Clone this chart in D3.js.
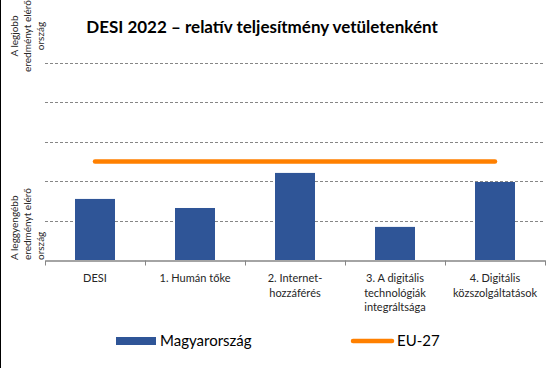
<!DOCTYPE html>
<html>
<head>
<meta charset="utf-8">
<script src="https://cdn.jsdelivr.net/npm/d3@7"></script>
<style>
  body { margin: 0; background: #fff; }
  svg { display: block; font-family: Lato, "Open Sans", sans-serif; }
</style>
</head>
<body>
<div id="chart"></div>
<script>
// data
const categories = ['DESI', '1. Humán tőke', '2. Internet-hozzáférés', '3. A digitális technológiák integráltsága', '4. Digitális közszolgáltatások'];
const categoryLines = [
  ['DESI'],
  ['1. Humán tőke'],
  ['2. Internet-', 'hozzáférés'],
  ['3. A digitális', 'technológiák', 'integráltsága'],
  ['4. Digitális', 'közszolgáltatások'],
];
const huValues = [1.55, 1.32, 2.21, 0.84, 1.98];
const euValues = [2.5, 2.5, 2.5, 2.5, 2.5];
const yTicks = [1, 2, 3, 4, 5];
const seriesNames = ['Magyarország', 'EU-27'];
const topLabel = ['A legjobb', 'eredményt elérő', 'ország'];
const bottomLabel = ['A leggyengébb', 'eredményt elérő', 'ország'];

const WIDTH = 552;
const HEIGHT = 368;
const BAR_COLOR = '#2F5597';
const LINE_COLOR = '#FF8000';

const plot = { left: 45, right: 545, top: 63, bottom: 260 };

const svg = d3.select('#chart').append('svg')
  .attr('width', WIDTH)
  .attr('height', HEIGHT);

// chart border on the left edge
svg.append('line')
  .attr('x1', 0.5).attr('x2', 0.5)
  .attr('y1', 0).attr('y2', HEIGHT)
  .attr('stroke', '#000');

const x = d3.scaleBand().domain(categories).range([plot.left, plot.right]).paddingInner(0.6).paddingOuter(0.3);
const xBand = d3.scaleBand().domain(categories).range([plot.left, plot.right]);
const y = d3.scaleLinear().domain([0, 5]).range([plot.bottom, plot.top]);

// title
svg.append('text')
  .attr('x', 262)
  .attr('y', 33)
  .attr('text-anchor', 'middle')
  .attr('font-size', '17px')
  .attr('font-weight', 'bold')
  .attr('fill', '#000')
  .text('DESI 2022 – relatív teljesítmény vetületenként');

// gridlines
svg.append('g')
  .selectAll('line')
  .data(yTicks)
  .enter()
  .append('line')
  .attr('x1', plot.left)
  .attr('x2', plot.right)
  .attr('y1', (d) => Math.round(y(d)) + 0.5)
  .attr('y2', (d) => Math.round(y(d)) + 0.5)
  .attr('stroke', '#868686')
  .attr('stroke-dasharray', '3,2');

// bars
svg.append('g')
  .selectAll('rect')
  .data(huValues)
  .enter()
  .append('rect')
  .attr('x', (d, i) => x(categories[i]))
  .attr('width', x.bandwidth())
  .attr('y', (d) => y(d))
  .attr('height', (d) => y(0) - y(d))
  .attr('fill', BAR_COLOR);

// x axis
const xAxis = d3.axisBottom(xBand).tickSize(0).tickFormat('');
const gx = svg.append('g')
  .attr('transform', `translate(0,${plot.bottom + 0.5})`)
  .call(xAxis);
gx.select('.domain').attr('stroke', '#868686').attr('stroke-width', 1.5);
gx.selectAll('line.sep')
  .data(d3.range(categories.length + 1))
  .enter()
  .append('line')
  .attr('class', 'sep')
  .attr('x1', (i) => Math.round(plot.left + i * xBand.step()) + 0.5)
  .attr('x2', (i) => Math.round(plot.left + i * xBand.step()) + 0.5)
  .attr('y1', 0)
  .attr('y2', 5)
  .attr('stroke', '#868686');

// category labels
const labels = svg.append('g')
  .selectAll('text')
  .data(categoryLines)
  .enter()
  .append('text')
  .attr('text-anchor', 'middle')
  .attr('font-size', '11px')
  .attr('fill', '#262626')
  .attr('transform', (d, i) => `translate(${xBand(categories[i]) + xBand.bandwidth() / 2},282)`);
labels.selectAll('tspan')
  .data((d) => d)
  .enter()
  .append('tspan')
  .attr('x', 0)
  .attr('dy', (d, i) => (i === 0 ? 0 : 14.5))
  .text((d) => d);

// EU-27 line
const line = d3.line()
  .x((d, i) => xBand(categories[i]) + xBand.bandwidth() / 2)
  .y((d) => y(d));
svg.append('path')
  .datum(euValues)
  .attr('d', line)
  .attr('fill', 'none')
  .attr('stroke', LINE_COLOR)
  .attr('stroke-width', 4.5)
  .attr('stroke-linecap', 'round');

// rotated y labels
function addRotated(lines, yPos, anchor) {
  const g = svg.append('g').attr('transform', `translate(0,${yPos}) rotate(-90)`);
  g.selectAll('text')
    .data(lines)
    .enter()
    .append('text')
    .attr('x', 0)
    .attr('y', (d, i) => 18 + i * 13)
    .attr('text-anchor', anchor)
    .attr('font-size', '10px')
    .attr('fill', '#262626')
    .text((d) => d);
}
addRotated(topLabel, 36, 'middle');
addRotated(bottomLabel, 260, 'start');

// legend
const legend = svg.append('g');
legend.append('rect')
  .attr('x', 116).attr('y', 337)
  .attr('width', 40).attr('height', 8)
  .attr('fill', BAR_COLOR);
legend.append('text')
  .attr('x', 160).attr('y', 346)
  .attr('font-size', '15px')
  .attr('fill', '#000')
  .text(seriesNames[0]);
legend.append('line')
  .attr('x1', 353).attr('x2', 392)
  .attr('y1', 341).attr('y2', 341)
  .attr('stroke', LINE_COLOR)
  .attr('stroke-width', 4.5)
  .attr('stroke-linecap', 'round');
legend.append('text')
  .attr('x', 397).attr('y', 346)
  .attr('font-size', '15px')
  .attr('fill', '#000')
  .text(seriesNames[1]);
</script>
</body>
</html>
